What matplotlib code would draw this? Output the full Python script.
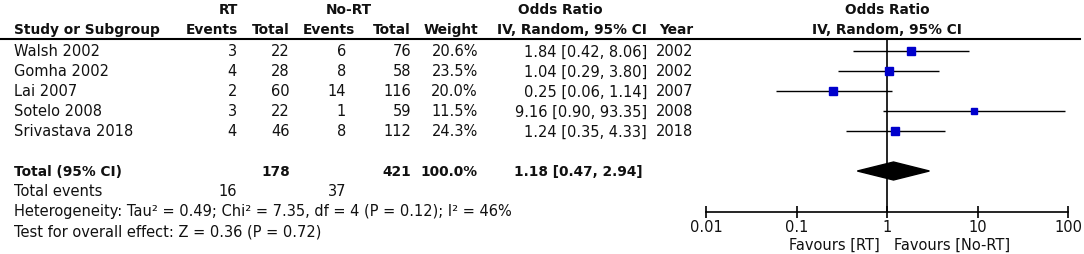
import numpy as np
import matplotlib
matplotlib.use('Agg')
from matplotlib import pyplot as plt
from matplotlib.patches import Polygon
from matplotlib.ticker import NullLocator

# study rows
studies = ['Walsh 2002', 'Gomha 2002', 'Lai 2007', 'Sotelo 2008', 'Srivastava 2018']
rt_events = [3, 4, 2, 3, 4]
rt_total = [22, 28, 60, 22, 46]
nort_events = [6, 8, 14, 1, 8]
nort_total = [76, 58, 116, 59, 112]
weights = [20.6, 23.5, 20.0, 11.5, 24.3]
odds = [1.84, 1.04, 0.25, 9.16, 1.24]
ci_low = [0.42, 0.29, 0.06, 0.90, 0.35]
ci_high = [8.06, 3.80, 1.14, 93.35, 4.33]
years = [2002, 2002, 2007, 2008, 2018]

# pooled result
total_weight = 100.0
total_or = 1.18
total_low = 0.47
total_high = 2.94
heterogeneity = 'Heterogeneity: Tau² = 0.49; Chi² = 7.35, df = 4 (P = 0.12); I² = 46%'
overall = 'Test for overall effect: Z = 0.36 (P = 0.72)'
axis_ticks = [0.01, 0.1, 1, 10, 100]
axis_labels = ['0.01', '0.1', '1', '10', '100']

W, H = 1084, 255
fs = 10.5
fs_b = 9.9
plt.rcParams['font.family'] = 'DejaVu Sans'

# layout (pixels)
row_y = [52, 72, 92, 112, 132]
total_y = 172
events_y = 192
het_y = 212
test_y = 232
hdr1_y, hdr2_y, line_y = 10, 30, 40
axis_y = 213
name_x = 14
col_rt_ev, col_rt_tot, col_no_ev, col_no_tot = 237, 290, 346, 411
col_w, col_or, col_year = 478, 647, 693

fig = plt.figure(figsize=(W / 100, H / 100), dpi=100)
tab = fig.add_axes([0, 0, 1, 1])
tab.set_xlim(0, W)
tab.set_ylim(H, 0)
tab.axis('off')


def t(x, y, s, ha='right', bold=False):
    tab.text(x, y, s, ha=ha, va='center', fontsize=fs_b if bold else fs,
             fontweight='bold' if bold else 'normal', color='#111111')


# header
t(228, hdr1_y, 'RT', ha='center', bold=True)
t(349, hdr1_y, 'No-RT', ha='center', bold=True)
t(560, hdr1_y, 'Odds Ratio', ha='center', bold=True)
t(887, hdr1_y, 'Odds Ratio', ha='center', bold=True)
t(name_x, hdr2_y, 'Study or Subgroup', ha='left', bold=True)
t(col_rt_ev + 1, hdr2_y, 'Events', bold=True)
t(col_rt_tot, hdr2_y, 'Total', bold=True)
t(col_no_ev + 9, hdr2_y, 'Events', bold=True)
t(col_no_tot, hdr2_y, 'Total', bold=True)
t(col_w, hdr2_y, 'Weight', bold=True)
t(col_or, hdr2_y, 'IV, Random, 95% CI', bold=True)
t(col_year, hdr2_y, 'Year', bold=True)
t(887, hdr2_y, 'IV, Random, 95% CI', ha='center', bold=True)
tab.plot([0, 1080], [line_y, line_y], color='black', lw=1.5)

for i, name in enumerate(studies):
    y = row_y[i]
    t(name_x, y, name, ha='left')
    t(col_rt_ev, y, str(rt_events[i]))
    t(col_rt_tot, y, str(rt_total[i]))
    t(col_no_ev, y, str(nort_events[i]))
    t(col_no_tot, y, str(nort_total[i]))
    t(col_w, y, f'{weights[i]:.1f}%')
    t(col_or, y, f'{odds[i]:.2f} [{ci_low[i]:.2f}, {ci_high[i]:.2f}]')
    t(col_year, y, str(years[i]))

t(name_x, total_y, 'Total (95% CI)', ha='left', bold=True)
t(col_rt_tot, total_y, str(sum(rt_total)), bold=True)
t(col_no_tot, total_y, str(sum(nort_total)), bold=True)
t(col_w, total_y, f'{total_weight:.1f}%', bold=True)
t(col_or - 4, total_y, f'{total_or:.2f} [{total_low:.2f}, {total_high:.2f}]', bold=True)
t(name_x, events_y, 'Total events', ha='left')
t(col_rt_ev, events_y, str(sum(rt_events)))
t(col_no_ev, events_y, str(sum(nort_events)))
t(name_x, het_y, heterogeneity, ha='left')
t(name_x, test_y, overall, ha='left')

# forest panel
fa = fig.add_axes([706 / W, 0, 362 / W, 1], facecolor='none')
fa.set_xscale('log')
fa.set_xlim(0.01, 100)
fa.set_ylim(H, 0)
for s in ['top', 'left', 'right']:
    fa.spines[s].set_visible(False)
fa.spines['bottom'].set_position(('data', axis_y))
fa.spines['bottom'].set_linewidth(1.2)
fa.set_yticks([])
fa.set_xticks(axis_ticks)
fa.set_xticklabels(axis_labels)
fa.xaxis.set_minor_locator(NullLocator())
fa.tick_params(axis='x', direction='inout', length=8, width=1.2, pad=1,
               labelsize=fs, labelcolor='#111111')

fa.vlines(1, line_y, axis_y, color='black', lw=1.2)
fa.hlines(row_y, ci_low, ci_high, color='black', lw=1.0, clip_on=False)
for i in range(len(studies)):
    side = 1.65 * np.sqrt(weights[i]) * 0.72
    fa.plot(odds[i], row_y[i], marker='s', ms=side, color='#0000CC',
            mec='#0000CC', clip_on=False, zorder=3)

dh = 9
diamond = Polygon([[total_low, total_y], [total_or, total_y - dh],
                   [total_high, total_y], [total_or, total_y + dh]],
                  closed=True, facecolor='black', edgecolor='black')
fa.add_patch(diamond)

t(880, 245, 'Favours [RT]', ha='right')
t(894, 245, 'Favours [No-RT]', ha='left')

fig.savefig('out.png', dpi=100)
